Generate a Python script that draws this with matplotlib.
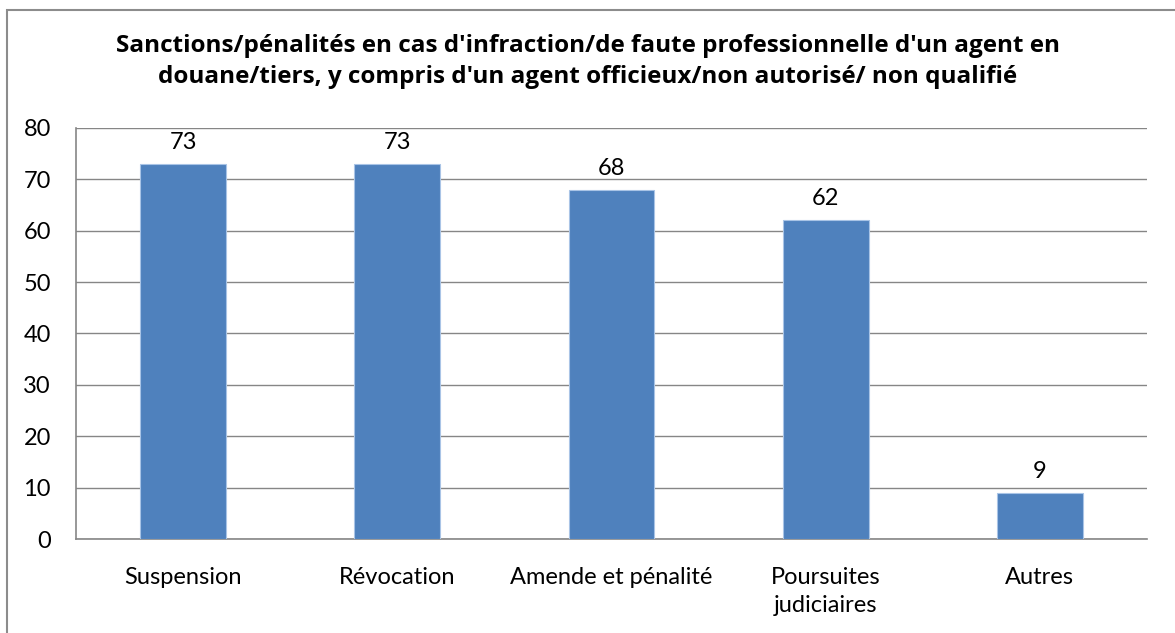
import matplotlib
matplotlib.use("Agg")
import matplotlib.pyplot as plt
from matplotlib.patches import Rectangle

categories = ["Suspension", "Révocation", "Amende et pénalité", "Poursuites\njudiciaires", "Autres"]
values = [73, 73, 68, 62, 9]
yticks = [0, 10, 20, 30, 40, 50, 60, 70, 80]
title = ("Sanctions/pénalités en cas d'infraction/de faute professionnelle d'un agent en\n"
         "douane/tiers, y compris d'un agent officieux/non autorisé/ non qualifié")

plt.rcParams['font.family'] = ['Lato', 'DejaVu Sans']

fig = plt.figure(figsize=(11.75, 6.33), dpi=100)
fig.patches.append(Rectangle((7/1175, -0.1), 1.2, 1 - 10/633 + 0.1, transform=fig.transFigure,
                             fill=False, edgecolor='#8c8c8c', linewidth=1.5))

ax = fig.add_axes([76/1175, 1 - 539/633, (1147 - 76)/1175, (539 - 128)/633])
x = list(range(len(categories)))
ax.bar(x, values, width=0.40, color='#4F81BD', edgecolor='#a9c4e6', linewidth=0.8, zorder=3)
ax.set_xlim(-0.5, len(categories) - 0.5)
ax.set_ylim(0, 80)
ax.set_yticks(yticks)
ax.set_yticklabels([str(t) for t in yticks], fontsize=17)
ax.set_xticks(x)
ax.set_xticklabels(categories, fontsize=17, linespacing=1.45)
ax.tick_params(axis='both', length=0)
ax.tick_params(axis='x', pad=20)
ax.tick_params(axis='y', pad=18)
ax.grid(axis='y', color='#868686', linewidth=1, zorder=0)
for s in ['top', 'right']:
    ax.spines[s].set_visible(False)
for s in ['left', 'bottom']:
    ax.spines[s].set_color('#868686')
    ax.spines[s].set_linewidth(1.2)

for xi, v in zip(x, values):
    ax.annotate(str(v), (xi, v), xytext=(0, 8), textcoords='offset points',
                ha='center', va='bottom', fontsize=17)

fig.text(588/1175, 1 - 61.5/633, title, ha='center', va='center', fontsize=17.5,
         fontweight='bold', family=['Open Sans', 'DejaVu Sans'], linespacing=1.38)

fig.savefig("out.png", dpi=100)
